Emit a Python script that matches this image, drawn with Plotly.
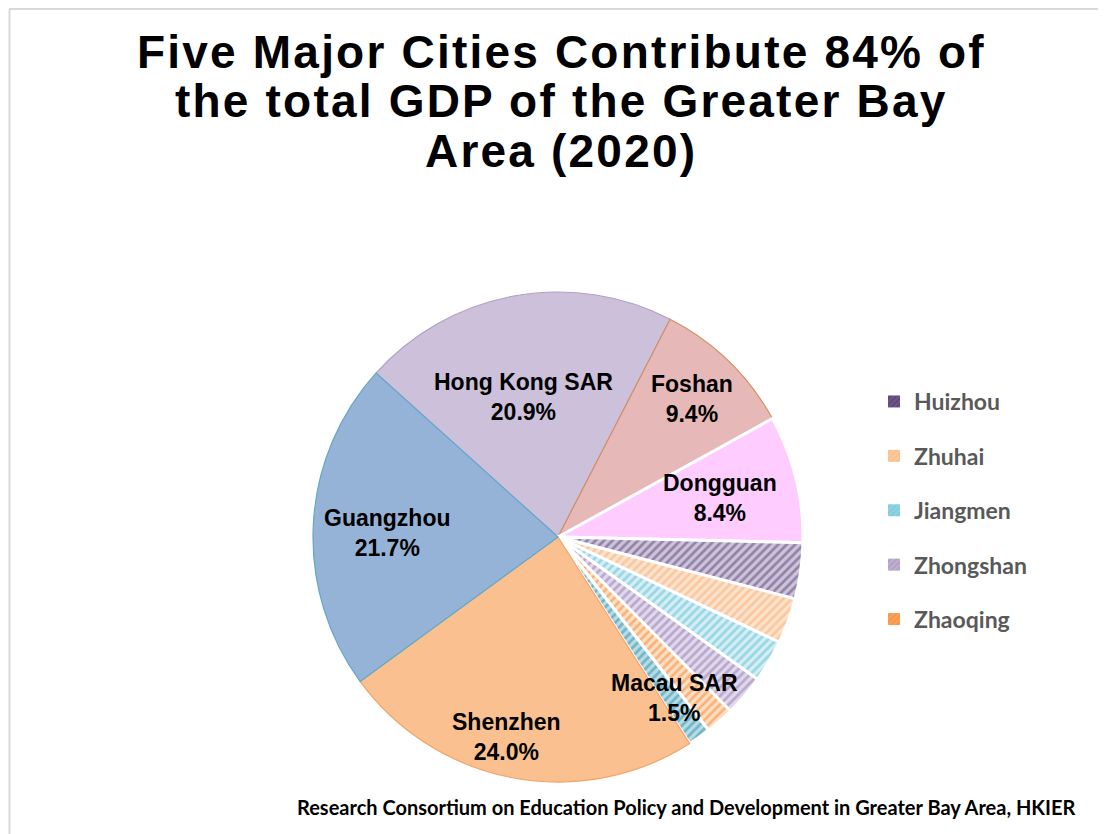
import math
import plotly.graph_objects as go

# ---------------- data ----------------
cities = ["Hong Kong SAR", "Foshan", "Dongguan", "Huizhou", "Zhuhai", "Jiangmen",
          "Zhongshan", "Zhaoqing", "Macau SAR", "Shenzhen", "Guangzhou"]
shares = [20.9, 9.4, 8.4, 3.7, 3.0, 2.8, 2.7, 1.9, 1.5, 24.0, 21.7]
labelled_cities = ["Hong Kong SAR", "Foshan", "Dongguan", "Macau SAR", "Shenzhen", "Guangzhou"]
legend_cities = ["Huizhou", "Zhuhai", "Jiangmen", "Zhongshan", "Zhaoqing"]

title_lines = ["Five Major Cities Contribute 84% of",
               "the total GDP of the Greater Bay",
               "Area (2020)"]
source_note = "Research Consortium on Education Policy and Development in Greater Bay Area, HKIER"

# ---------------- styles ----------------
OFF = 8                            # page body margin
W, H = 1106 - OFF, 834 - OFF
CX, CY, R = 558, 537, 245          # pie centre / radius in window pixels
ROTATION = 312                     # first slice starts here (deg clockwise from 12 o'clock)

fill = {"Hong Kong SAR": "#CCC0DA", "Foshan": "#E6B9B8", "Dongguan": "#FFCCFF",
        "Huizhou": "#CDC4DC", "Zhuhai": "#FDE2CC", "Jiangmen": "#D3EEF4",
        "Zhongshan": "#E1D8EC", "Zhaoqing": "#FDDFC6", "Macau SAR": "#B6DCE6",
        "Shenzhen": "#FAC090", "Guangzhou": "#95B3D7"}
hatch = {"Huizhou": "#55406E", "Zhuhai": "#F8AB72", "Jiangmen": "#5FBCD2",
         "Zhongshan": "#8D77AE", "Zhaoqing": "#F58426", "Macau SAR": "#2E8AA3"}
edge = {"Hong Kong SAR": "#AE9FC6", "Foshan": "#D48F60", "Shenzhen": "#F3A468",
        "Guangzhou": "#62A8C9"}
legend_fill = {"Huizhou": "#5F497A", "Zhuhai": "#FAC090", "Jiangmen": "#7FCCDD",
               "Zhongshan": "#B3A2C7", "Zhaoqing": "#F79646"}
legend_hatch = {"Huizhou": "#8C77A8", "Zhuhai": "#FCD5B5", "Jiangmen": "#B6E2EC",
                "Zhongshan": "#D5CCE2", "Zhaoqing": "#FABF8F"}
# (angle offset from slice mid-angle in degrees, radius fraction)
label_place = {"Hong Kong SAR": (-3.6, 0.59), "Foshan": (0.0, 0.785),
               "Dongguan": (0.4, 0.68), "Macau SAR": (-0.8, 0.81),
               "Shenzhen": (3.9, 0.843), "Guangzhou": (-1.7, 0.70)}

def px(x):
    return (x - OFF) / W

def py(y):
    return 1 - (y - OFF) / H

colors = [fill[c] for c in cities]
shapes_pat = ["/" if c in hatch else "" for c in cities]
fg = [hatch.get(c, fill[c]) for c in cities]
line_col = [edge.get(c, "white") for c in cities]
line_w = [1.2 if c in edge else 3 for c in cities]

fig = go.Figure()
fig.add_trace(go.Pie(
    labels=cities, values=shares, sort=False, direction="clockwise",
    rotation=ROTATION, textinfo="none", showlegend=False, hoverinfo="label+percent",
    domain=dict(x=[px(CX - R), px(CX + R)], y=[py(CY + R), py(CY - R)]),
    marker=dict(colors=colors, line=dict(color=line_col, width=line_w),
                pattern=dict(shape=shapes_pat, fgcolor=fg, fillmode="overlay",
                             size=6, solidity=0.45)),
))

for c in legend_cities:
    fig.add_trace(go.Bar(
        x=[None], y=[None], name=c, legendgroup=c, showlegend=True,
        marker=dict(color=legend_fill[c], line=dict(width=0),
                    pattern=dict(shape="/", fgcolor=legend_hatch[c], fillmode="overlay",
                                 size=5, solidity=0.3)),
    ))

# slice labels placed along each slice's mid-angle
annotations = []
total = sum(shares)
cum = 0.0
for c, v in zip(cities, shares):
    start = ROTATION + 360 * cum / total
    mid = start + 360 * v / total / 2
    cum += v
    if c in labelled_cities:
        dang, rf = label_place[c]
        a = math.radians(mid + dang)
        lx = CX + R * rf * math.sin(a)
        ly = CY - R * rf * math.cos(a)
        annotations.append(dict(
            x=px(lx), y=py(ly), xref="paper", yref="paper", showarrow=False,
            text=f"{c}<br>{v:.1f}%", align="center", xanchor="center", yanchor="middle",
            font=dict(family="Liberation Sans, Arial, sans-serif", size=23, color="black",
                      weight="bold")))

title_y = [52, 101, 151]
for t, yy in zip(title_lines, title_y):
    annotations.append(dict(
        x=px(561), y=py(yy), xref="paper", yref="paper", showarrow=False,
        text=f'<span style="letter-spacing:2.2px">{t}</span>',
        xanchor="center", yanchor="middle",
        font=dict(family="Liberation Sans, Arial, sans-serif", size=46, color="black",
                  weight="bold")))

annotations.append(dict(
    x=px(1077), y=py(807), xref="paper", yref="paper", showarrow=False, text=source_note,
    xanchor="right", yanchor="middle",
    font=dict(family="Lato, Liberation Sans, sans-serif", size=20, color="black",
              weight="bold")))

fig.update_layout(
    width=W, height=H, margin=dict(l=0, r=0, t=0, b=0),
    paper_bgcolor="white", plot_bgcolor="white",
    xaxis=dict(visible=False), yaxis=dict(visible=False),
    annotations=annotations,
    legend=dict(x=px(874), y=py(380), xanchor="left", yanchor="top",
                traceorder="grouped", tracegroupgap=21.5, itemwidth=30,
                font=dict(family="Lato, Liberation Sans, sans-serif", size=23,
                          color="#595959", weight="bold"),
                bgcolor="rgba(0,0,0,0)"),
    shapes=[
        dict(type="line", xref="paper", yref="paper", x0=px(9.5), x1=px(9.5),
             y0=py(9), y1=py(H + 20), line=dict(color="#D9D9D9", width=2)),
        dict(type="line", xref="paper", yref="paper", x0=px(9), x1=px(W + 20),
             y0=py(9), y1=py(9), line=dict(color="#D9D9D9", width=2)),
    ],
)

fig.write_html("out.html")
